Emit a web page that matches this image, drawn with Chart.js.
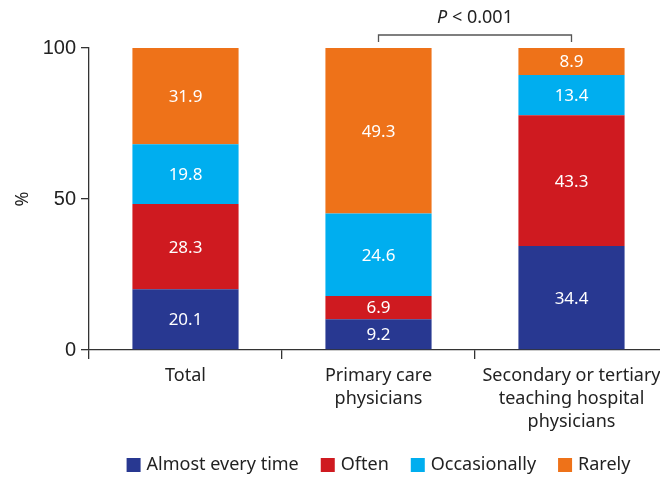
<!DOCTYPE html>
<html>
<head>
<meta charset="utf-8">
<script src="https://cdn.jsdelivr.net/npm/chart.js@4.4.1/dist/chart.umd.min.js"></script>
<style>
  html, body { margin: 0; padding: 0; background: #fff; overflow: hidden; }
  #wrap { width: 670px; height: 478px; }
</style>
</head>
<body>
<div id="wrap"><canvas id="c" width="670" height="478"></canvas></div>
<script>
// ---- Data ----
const categories = ['Total', ['Primary care', 'physicians'], ['Secondary or tertiary', 'teaching hospital', 'physicians']];
const seriesNames = ['Almost every time', 'Often', 'Occasionally', 'Rarely'];
const almostEveryTime = [20.1, 9.2, 34.4];
const often = [28.3, 6.9, 43.3];
const occasionally = [19.8, 24.6, 13.4];
const rarely = [31.9, 49.3, 8.9];
const yTickValues = [0, 50, 100];
const pValueText = '< 0.001';

const seriesValues = [almostEveryTime, often, occasionally, rarely];
const colors = ['#283891', '#CF1A20', '#00AEEF', '#EE7219'];

// bars are drawn as 100% stacks (shares of each category's total)
const totals = categories.map((_, i) => seriesValues.reduce((s, arr) => s + arr[i], 0));
const shares = seriesValues.map(arr => arr.map((v, i) => v / totals[i] * 100));

const FONT = '"Noto Sans", sans-serif';

const labelPlugin = {
  id: 'valueLabels',
  afterDatasetsDraw(chart) {
    const ctx = chart.ctx;
    ctx.save();
    ctx.fillStyle = '#ffffff';
    ctx.font = '17px ' + FONT;
    ctx.textAlign = 'center';
    ctx.textBaseline = 'middle';
    chart.data.datasets.forEach((ds, di) => {
      const meta = chart.getDatasetMeta(di);
      meta.data.forEach((el, i) => {
        const y = (el.y + el.base) / 2;
        ctx.fillText(ds.rawValues[i].toFixed(1), el.x, y + 1);
      });
    });
    ctx.restore();
  }
};

const annotPlugin = {
  id: 'annot',
  afterDraw(chart) {
    const ctx = chart.ctx;
    const xs = chart.scales.x;
    const x1 = xs.getPixelForValue(1);
    const x2 = xs.getPixelForValue(2);
    ctx.save();
    // bracket
    ctx.strokeStyle = '#555';
    ctx.lineWidth = 1.3;
    ctx.beginPath();
    ctx.moveTo(x1, 42);
    ctx.lineTo(x1, 35);
    ctx.lineTo(x2, 35);
    ctx.lineTo(x2, 42);
    ctx.stroke();
    // P text
    ctx.fillStyle = '#222';
    ctx.textBaseline = 'middle';
    ctx.font = 'italic 18px ' + FONT;
    const pW = ctx.measureText('P').width;
    ctx.font = '18px ' + FONT;
    const restW = ctx.measureText(' ' + pValueText).width;
    const cx = (x1 + x2) / 2;
    let sx = cx - (pW + restW) / 2;
    ctx.textAlign = 'left';
    ctx.font = 'italic 18px ' + FONT;
    ctx.fillText('P', sx, 18);
    ctx.font = '18px ' + FONT;
    ctx.fillText(' ' + pValueText, sx + pW, 18);

    // legend
    const area = chart.chartArea;
    ctx.font = '18px ' + FONT;
    const box = 14, gapBox = 6, gapItem = 22;
    const widths = chart.data.datasets.map(ds => box + gapBox + ctx.measureText(ds.label).width);
    const total = widths.reduce((a, b) => a + b, 0) + gapItem * (widths.length - 1);
    let lx = (area.left + area.right) / 2 - total / 2;
    const ly = 465;
    chart.data.datasets.forEach((ds, i) => {
      ctx.fillStyle = ds.backgroundColor;
      ctx.fillRect(lx, ly - box / 2, box, box);
      ctx.fillStyle = '#222';
      ctx.fillText(ds.label, lx + box + gapBox, ly);
      lx += widths[i] + gapItem;
    });
    ctx.restore();
  }
};

new Chart(document.getElementById('c'), {
  type: 'bar',
  data: {
    labels: categories,
    datasets: seriesNames.map((name, i) => ({
      label: name,
      data: shares[i],
      rawValues: seriesValues[i],
      backgroundColor: colors[i],
      borderWidth: 0,
      barPercentage: 0.55,
      categoryPercentage: 1.0
    }))
  },
  options: {
    responsive: false,
    animation: false,
    layout: { padding: { top: 48, right: 2, left: 0, bottom: 0 } },
    plugins: { legend: { display: false }, tooltip: { enabled: false } },
    scales: {
      x: {
        stacked: true,
        offset: true,
        grid: { display: true, drawOnChartArea: false, offset: true, tickLength: 9, color: '#333', lineWidth: 1.3 },
        border: { color: '#333', width: 1.3 },
        ticks: { color: '#222', font: { family: FONT, size: 18, lineHeight: 1.28 }, padding: 5, maxRotation: 0, autoSkip: false },
        afterFit(scale) { scale.height = 128; }
      },
      y: {
        stacked: true,
        min: 0, max: 100,
        afterBuildTicks(scale) { scale.ticks = yTickValues.map(v => ({ value: v })); },
        grid: { display: true, drawOnChartArea: false, tickLength: 8, color: '#333', lineWidth: 1.3 },
        border: { color: '#333', width: 1.3 },
        ticks: { color: '#222', font: { family: '"Liberation Sans", Arial, sans-serif', size: 20 }, padding: 5 },
        title: { display: true, text: '%', color: '#222', font: { family: FONT, size: 18 }, padding: { top: 12, bottom: 0 } },
        afterFit(scale) { scale.width = 89; }
      }
    }
  },
  plugins: [labelPlugin, annotPlugin]
});
</script>
</body>
</html>
